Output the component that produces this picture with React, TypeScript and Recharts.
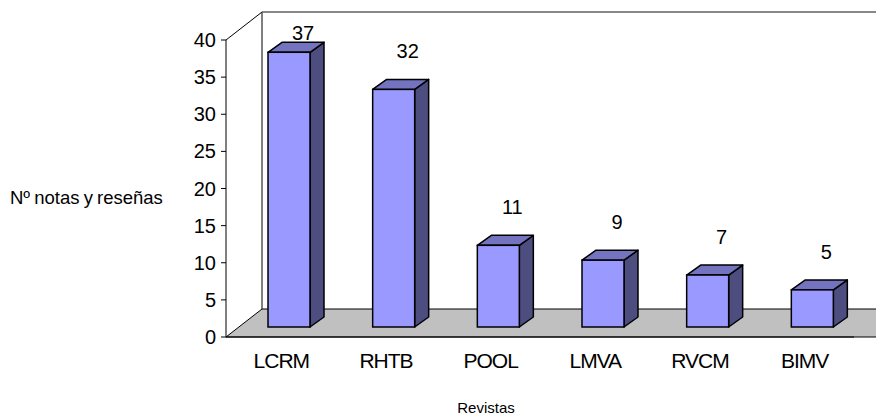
import React from 'react';
import { BarChart, Bar, XAxis, YAxis, ReferenceArea, LabelList } from 'recharts';

const categories = ['LCRM', 'RHTB', 'POOL', 'LMVA', 'RVCM', 'BIMV'];
const values = [37, 32, 11, 9, 7, 5];
const yTicks = [0, 5, 10, 15, 20, 25, 30, 35, 40];
const edgeTicks = [0, 1, 2, 3, 4, 5, 6];
const yTitle = 'Nº notas y reseñas';
const xTitle = 'Revistas';

const data = categories.map((name, i) => ({ name, value: values[i] }));

const FONT = '"Liberation Sans", Arial, sans-serif';
const WALL_DX = 36;
const WALL_DY = -28;
const BAR_DX = 11;
const BAR_DY = -10;
const DEPTH_X = 14;
const DEPTH_Y = -10;

const Walls = (props: any) => {
  const { x, y, width, height } = props;
  const by = y + height;
  const floor = `${x},${by} ${x + width},${by} ${x + width + WALL_DX},${by + WALL_DY} ${x + WALL_DX},${by + WALL_DY}`;
  return (
    <g>
      <polygon points={floor} fill="#C0C0C0" stroke="#000" strokeWidth={1} />
      <line x1={x} y1={y} x2={x + WALL_DX} y2={y + WALL_DY} stroke="#000" strokeWidth={1} />
      <line x1={x + WALL_DX} y1={y + WALL_DY} x2={x + WALL_DX} y2={by + WALL_DY} stroke="#000" strokeWidth={1} />
      <line x1={x + WALL_DX} y1={y + WALL_DY} x2={x + width + WALL_DX} y2={y + WALL_DY} stroke="#606060" strokeWidth={1.5} />
    </g>
  );
};

const Bar3D = (props: any) => {
  const { x, y, width, height } = props;
  if (height == null || width == null) return null;
  const fx = x + BAR_DX;
  const fy = y + BAR_DY;
  const top = `${fx},${fy} ${fx + width},${fy} ${fx + width + DEPTH_X},${fy + DEPTH_Y} ${fx + DEPTH_X},${fy + DEPTH_Y}`;
  const side = `${fx + width},${fy} ${fx + width + DEPTH_X},${fy + DEPTH_Y} ${fx + width + DEPTH_X},${fy + height + DEPTH_Y} ${fx + width},${fy + height}`;
  return (
    <g>
      <polygon points={side} fill="#4D4D80" stroke="#000" strokeWidth={1.5} strokeLinejoin="round" />
      <polygon points={top} fill="#7373C0" stroke="#000" strokeWidth={1.5} strokeLinejoin="round" />
      <rect x={fx} y={fy} width={width} height={height} fill="#9999FF" stroke="#000" strokeWidth={1.5} />
    </g>
  );
};

const ValueLabel = (props: any) => {
  const vb = props.viewBox || {};
  const x = props.x ?? vb.x;
  const y = props.y ?? vb.y;
  const width = props.width ?? vb.width;
  const { value } = props;
  return (
    <text
      x={x + width / 2 + 25}
      y={Math.max(y - 41, 40)}
      textAnchor="middle"
      fontFamily={FONT}
      fontSize={20}
      fill="#000"
    >
      {value}
    </text>
  );
};

const CatTick = (props: any) => {
  const { x, y, payload } = props;
  return (
    <text x={x + 3} y={y} dy="0.71em" textAnchor="middle" fontFamily={FONT} fontSize={21} letterSpacing={-1} fill="#000">
      {payload.value}
    </text>
  );
};

const ValTick = (props: any) => {
  const { x, y, payload } = props;
  return (
    <text x={x} y={y} dy="0.355em" textAnchor="end" fontFamily={FONT} fontSize={20} fill="#000">
      {payload.value}
    </text>
  );
};

const YTitle = (props: any) => {
  const vb = props.viewBox || { x: 0, y: 40 };
  return (
    <text x={10} y={vb.y + 164} fontFamily={FONT} fontSize={18.5} fill="#000" wordSpacing={-1}>
      {yTitle}
    </text>
  );
};

const XTitle = (props: any) => {
  const vb = props.viewBox || { x: 226, y: 337 };
  return (
    <text x={486} y={vb.y + 76} textAnchor="middle" fontFamily={FONT} fontSize={15} fill="#000">
      {xTitle}
    </text>
  );
};

export default function App() {
  return (
    <div style={{ position: 'absolute', left: 0, top: 0, width: 876, height: 419, background: '#fff' }}>
      <BarChart
        width={876}
        height={419}
        data={data}
        margin={{ top: 40, right: 22, bottom: 0, left: 0 }}
        barSize={42}
      >
        <XAxis
          xAxisId="edges"
          type="number"
          domain={[0, 6]}
          ticks={edgeTicks}
          tick={false}
          axisLine={false}
          tickLine={{ stroke: '#000' }}
          tickSize={6}
          height={0}
        />
        <XAxis
          xAxisId="cat"
          dataKey="name"
          height={82}
          axisLine={{ stroke: '#000' }}
          tickLine={false}
          tickSize={0}
          tickMargin={16}
          tick={<CatTick />}
          label={{ content: <XTitle /> }}
        />
        <YAxis
          domain={[0, 40]}
          ticks={yTicks}
          width={226}
          interval={0}
          axisLine={{ stroke: '#000' }}
          tickLine={{ stroke: '#000' }}
          tickSize={5}
          tickMargin={5}
          tick={<ValTick />}
          label={{ content: <YTitle /> }}
        />
        <ReferenceArea
          xAxisId="edges"
          x1={0}
          x2={6}
          y1={0}
          y2={40}
          ifOverflow="visible"
          shape={<Walls />}
        />
        <Bar xAxisId="cat" dataKey="value" shape={<Bar3D />} isAnimationActive={false}>
          <LabelList dataKey="value" content={<ValueLabel />} />
        </Bar>
      </BarChart>
    </div>
  );
}
